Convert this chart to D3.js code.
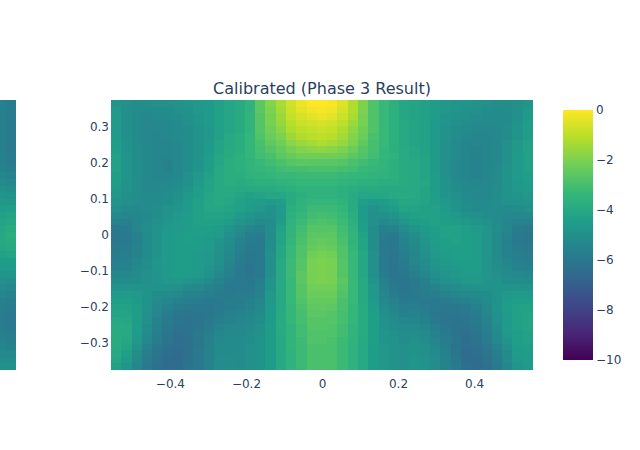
<!DOCTYPE html>
<html><head><meta charset="utf-8">
<script src="https://cdn.jsdelivr.net/npm/d3@7"></script>
<style>html,body{margin:0;padding:0;background:#fff}svg{display:block}text{font-family:"DejaVu Sans",sans-serif;fill:#2a3f5f}</style>
</head><body><svg id="c" width="640" height="450"></svg>
<script>
const titleText = "Calibrated (Phase 3 Result)";
const xTicks = [-0.4,-0.2,0,0.2,0.4];
const yTicks = [-0.3,-0.2,-0.1,0,0.1,0.2,0.3];
const barTicks = [0,-2,-4,-6,-8,-10];
const viridis = ['#440154','#482878','#3e4989','#31688e','#26828e','#1f9e89','#35b779','#6ece58','#b5de2b','#fde725'];
const stripA = [-5.6,-5.6,-5.7,-5.7,-5.7,-5.7,-5.7,-5.7,-5.6,-5.6,-5.5,-5.4,-5.2,-5.0,-4.8,-4.7,-4.5,-4.3,-4.2,-4.1,-4.0,-4.0,-4.1,-4.3,-4.5,-4.6,-4.8,-5.0,-5.2,-5.4,-5.6,-5.7,-5.8,-5.8,-5.8,-5.7,-5.5,-5.4,-5.3,-5.1,-5.0];
const stripB = [-5.8,-5.8,-5.8,-5.9,-5.9,-5.9,-5.9,-5.9,-5.8,-5.8,-5.7,-5.5,-5.3,-5.1,-4.9,-4.7,-4.4,-4.2,-4.1,-3.9,-3.8,-3.9,-4.0,-4.2,-4.5,-4.6,-4.8,-5.1,-5.3,-5.5,-5.7,-5.8,-5.9,-5.9,-5.9,-5.8,-5.7,-5.5,-5.3,-5.1,-5.0];
const z = [
[-4.8,-5.0,-5.1,-5.1,-5.0,-5.0,-4.9,-4.8,-4.7,-4.6,-4.3,-4.1,-3.9,-3.6,-2.6,-1.9,-1.3,-0.7,-0.3,-0.05,0,-0.1,-0.5,-1.2,-2.0,-2.8,-3.3,-3.7,-4.1,-4.2,-4.3,-4.5,-4.7,-4.8,-4.8,-4.9,-5.0,-5.1,-5.1,-5.0,-4.8],
[-4.7,-5.0,-5.1,-5.2,-5.1,-5.1,-5.0,-4.9,-4.7,-4.6,-4.3,-4.1,-3.9,-3.6,-2.6,-2.0,-1.4,-0.8,-0.4,-0.2,-0.1,-0.2,-0.6,-1.2,-2.0,-2.8,-3.3,-3.7,-4.1,-4.2,-4.3,-4.5,-4.7,-4.8,-4.9,-5.0,-5.1,-5.2,-5.1,-5.0,-4.7],
[-4.6,-5.0,-5.2,-5.3,-5.2,-5.2,-5.1,-5.0,-4.8,-4.6,-4.3,-4.1,-3.9,-3.5,-2.7,-2.1,-1.5,-0.9,-0.6,-0.4,-0.3,-0.4,-0.8,-1.3,-2.1,-2.8,-3.3,-3.7,-4.1,-4.2,-4.3,-4.5,-4.8,-4.9,-5.0,-5.1,-5.2,-5.2,-5.2,-5.0,-4.6],
[-4.6,-5.0,-5.2,-5.3,-5.3,-5.3,-5.2,-5.0,-4.8,-4.6,-4.3,-4.1,-3.9,-3.5,-2.7,-2.1,-1.6,-1.1,-0.8,-0.7,-0.6,-0.7,-1.0,-1.5,-2.1,-2.8,-3.3,-3.7,-4.0,-4.2,-4.3,-4.6,-4.8,-5.0,-5.1,-5.2,-5.2,-5.2,-5.2,-4.9,-4.5],
[-4.6,-5.0,-5.2,-5.3,-5.3,-5.3,-5.2,-5.1,-4.9,-4.7,-4.3,-4.1,-3.9,-3.5,-2.7,-2.2,-1.8,-1.2,-1.0,-0.9,-0.8,-0.9,-1.2,-1.7,-2.2,-2.8,-3.3,-3.7,-4.0,-4.2,-4.3,-4.6,-4.9,-5.1,-5.2,-5.3,-5.3,-5.3,-5.1,-4.8,-4.4],
[-4.6,-5.0,-5.2,-5.3,-5.4,-5.3,-5.2,-5.1,-4.9,-4.7,-4.3,-4.0,-3.8,-3.4,-2.8,-2.3,-2.0,-1.5,-1.2,-1.1,-1.0,-1.1,-1.4,-1.9,-2.3,-2.9,-3.3,-3.7,-4.0,-4.2,-4.3,-4.6,-4.9,-5.1,-5.3,-5.4,-5.4,-5.3,-5.1,-4.8,-4.4],
[-4.5,-4.9,-5.2,-5.3,-5.4,-5.4,-5.3,-5.1,-4.9,-4.6,-4.2,-4.0,-3.8,-3.4,-2.9,-2.5,-2.2,-1.8,-1.5,-1.4,-1.2,-1.4,-1.6,-2.0,-2.5,-3.0,-3.3,-3.7,-4.0,-4.2,-4.3,-4.6,-5.0,-5.2,-5.4,-5.4,-5.4,-5.3,-5.0,-4.7,-4.3],
[-4.4,-4.9,-5.1,-5.3,-5.4,-5.4,-5.3,-5.1,-4.9,-4.6,-4.2,-3.9,-3.8,-3.4,-3.0,-2.7,-2.4,-2.1,-1.9,-1.8,-1.7,-1.8,-2.0,-2.3,-2.7,-3.0,-3.4,-3.7,-3.9,-4.1,-4.3,-4.6,-5.0,-5.2,-5.4,-5.5,-5.4,-5.3,-5.0,-4.7,-4.3],
[-4.3,-4.8,-5.1,-5.3,-5.4,-5.4,-5.3,-5.1,-4.9,-4.5,-4.1,-3.9,-3.7,-3.4,-3.1,-2.9,-2.6,-2.4,-2.2,-2.2,-2.2,-2.2,-2.3,-2.6,-2.8,-3.1,-3.4,-3.6,-3.9,-4.1,-4.2,-4.6,-5.0,-5.2,-5.4,-5.5,-5.4,-5.3,-5.0,-4.6,-4.3],
[-4.3,-4.8,-5.1,-5.3,-5.4,-5.5,-5.3,-5.1,-4.8,-4.4,-4.1,-3.8,-3.7,-3.5,-3.3,-3.1,-2.9,-2.7,-2.6,-2.6,-2.6,-2.6,-2.7,-2.9,-3.1,-3.3,-3.5,-3.7,-3.9,-4.0,-4.2,-4.6,-5.0,-5.3,-5.4,-5.5,-5.4,-5.3,-5.0,-4.6,-4.3],
[-4.3,-4.8,-5.1,-5.3,-5.4,-5.5,-5.3,-5.1,-4.8,-4.4,-4.0,-3.8,-3.7,-3.5,-3.4,-3.3,-3.1,-3.0,-3.0,-2.9,-2.9,-2.9,-3.0,-3.1,-3.3,-3.4,-3.5,-3.7,-3.9,-4.0,-4.2,-4.6,-5.0,-5.3,-5.4,-5.5,-5.4,-5.2,-4.9,-4.6,-4.3],
[-4.4,-4.8,-5.1,-5.3,-5.4,-5.4,-5.3,-5.0,-4.7,-4.3,-4.0,-3.8,-3.8,-3.6,-3.5,-3.4,-3.3,-3.3,-3.2,-3.2,-3.2,-3.2,-3.3,-3.4,-3.4,-3.5,-3.6,-3.7,-3.9,-4.0,-4.2,-4.5,-5.0,-5.3,-5.4,-5.5,-5.4,-5.2,-4.9,-4.6,-4.4],
[-4.5,-4.9,-5.1,-5.3,-5.3,-5.3,-5.2,-5.0,-4.6,-4.2,-4.0,-3.8,-3.9,-3.8,-3.7,-3.7,-3.6,-3.5,-3.4,-3.4,-3.4,-3.4,-3.5,-3.6,-3.7,-3.7,-3.8,-3.8,-3.9,-4.0,-4.1,-4.5,-4.9,-5.2,-5.3,-5.4,-5.3,-5.2,-4.9,-4.7,-4.5],
[-4.6,-4.9,-5.1,-5.3,-5.3,-5.2,-5.1,-4.8,-4.4,-4.2,-4.0,-3.9,-4.0,-4.0,-3.9,-3.9,-3.8,-3.7,-3.6,-3.6,-3.6,-3.6,-3.7,-3.8,-3.9,-3.9,-4.0,-4.0,-4.0,-4.0,-4.2,-4.5,-4.9,-5.1,-5.3,-5.3,-5.3,-5.1,-4.9,-4.7,-4.6],
[-4.7,-5.0,-5.1,-5.2,-5.2,-5.1,-5.0,-4.7,-4.4,-4.1,-4.0,-4.0,-4.2,-4.3,-4.2,-4.1,-4.1,-3.9,-3.7,-3.6,-3.6,-3.6,-3.7,-3.9,-4.1,-4.1,-4.1,-4.0,-3.9,-4.0,-4.2,-4.4,-4.8,-5.0,-5.2,-5.3,-5.3,-5.1,-4.9,-4.8,-4.7],
[-4.8,-5.0,-5.1,-5.2,-5.2,-5.1,-4.9,-4.6,-4.3,-4.1,-4.0,-4.1,-4.3,-4.4,-4.5,-4.6,-4.4,-3.9,-3.6,-3.4,-3.4,-3.4,-3.6,-3.9,-4.4,-4.6,-4.5,-4.3,-4.1,-4.1,-4.2,-4.4,-4.7,-4.9,-5.2,-5.2,-5.2,-5.1,-5.0,-4.9,-4.8],
[-5.0,-5.2,-5.3,-5.2,-5.1,-4.9,-4.8,-4.6,-4.3,-4.1,-4.1,-4.2,-4.3,-4.5,-4.7,-4.9,-4.6,-3.8,-3.5,-3.2,-3.2,-3.2,-3.4,-3.9,-4.6,-4.9,-4.7,-4.5,-4.2,-4.2,-4.3,-4.3,-4.6,-4.9,-5.1,-5.2,-5.2,-5.2,-5.2,-5.1,-5.0],
[-5.3,-5.4,-5.4,-5.3,-5.1,-4.9,-4.7,-4.5,-4.3,-4.2,-4.2,-4.3,-4.6,-4.8,-5.0,-5.0,-4.6,-3.7,-3.4,-3.1,-3.0,-3.1,-3.3,-3.8,-4.6,-5.0,-5.0,-4.8,-4.5,-4.3,-4.3,-4.3,-4.5,-4.7,-4.9,-5.0,-5.1,-5.2,-5.3,-5.3,-5.3],
[-5.6,-5.6,-5.4,-5.2,-5.0,-4.8,-4.6,-4.5,-4.3,-4.3,-4.3,-4.5,-4.8,-5.0,-5.2,-5.1,-4.5,-3.6,-3.2,-2.9,-2.8,-2.9,-3.2,-3.7,-4.5,-5.0,-5.3,-5.1,-4.8,-4.5,-4.4,-4.3,-4.4,-4.5,-4.7,-4.8,-5.0,-5.2,-5.4,-5.6,-5.6],
[-5.9,-5.8,-5.4,-5.1,-4.9,-4.7,-4.6,-4.5,-4.4,-4.4,-4.5,-4.8,-5.1,-5.4,-5.5,-5.1,-4.3,-3.5,-3.1,-2.7,-2.7,-2.7,-3.1,-3.6,-4.4,-5.1,-5.6,-5.5,-5.1,-4.8,-4.6,-4.4,-4.3,-4.3,-4.4,-4.6,-4.8,-5.1,-5.4,-5.8,-5.9],
[-6.0,-5.9,-5.5,-5.2,-4.9,-4.6,-4.5,-4.4,-4.4,-4.5,-4.6,-5.0,-5.3,-5.7,-5.8,-5.1,-4.2,-3.5,-3.0,-2.6,-2.6,-2.6,-3.0,-3.5,-4.3,-5.1,-5.8,-5.9,-5.4,-5.1,-4.7,-4.5,-4.3,-4.3,-4.4,-4.5,-4.8,-5.2,-5.5,-5.9,-6.0],
[-6.0,-5.9,-5.6,-5.2,-4.9,-4.6,-4.5,-4.4,-4.5,-4.6,-4.8,-5.1,-5.5,-5.8,-5.9,-5.1,-4.2,-3.4,-2.9,-2.5,-2.4,-2.5,-2.9,-3.5,-4.2,-5.1,-5.9,-6.0,-5.5,-5.2,-4.8,-4.5,-4.4,-4.3,-4.4,-4.5,-4.8,-5.2,-5.6,-5.9,-6.0],
[-5.9,-5.8,-5.5,-5.2,-4.9,-4.6,-4.5,-4.5,-4.5,-4.6,-4.9,-5.2,-5.6,-5.9,-5.9,-5.1,-4.1,-3.3,-2.8,-2.4,-2.3,-2.4,-2.8,-3.4,-4.2,-5.1,-5.9,-6.0,-5.6,-5.3,-4.9,-4.6,-4.4,-4.4,-4.4,-4.5,-4.8,-5.2,-5.5,-5.8,-5.9],
[-5.8,-5.7,-5.5,-5.2,-4.9,-4.6,-4.5,-4.5,-4.6,-4.7,-5.0,-5.3,-5.7,-6.0,-5.9,-5.0,-4.1,-3.3,-2.8,-2.2,-2.1,-2.2,-2.8,-3.3,-4.1,-5.0,-5.9,-6.1,-5.7,-5.4,-5.0,-4.7,-4.5,-4.4,-4.4,-4.5,-4.8,-5.2,-5.5,-5.7,-5.8],
[-5.7,-5.6,-5.4,-5.1,-4.8,-4.6,-4.5,-4.5,-4.6,-4.7,-5.0,-5.4,-5.8,-6.0,-5.9,-5.0,-4.0,-3.2,-2.7,-2.1,-2.0,-2.1,-2.7,-3.3,-4.1,-5.0,-5.9,-6.1,-5.8,-5.4,-5.1,-4.8,-4.6,-4.5,-4.5,-4.5,-4.8,-5.1,-5.4,-5.6,-5.7],
[-5.6,-5.5,-5.3,-5.1,-4.8,-4.6,-4.5,-4.5,-4.6,-4.8,-5.1,-5.5,-5.9,-6.1,-5.9,-5.0,-4.0,-3.2,-2.7,-2.1,-2.0,-2.1,-2.7,-3.3,-4.1,-5.0,-5.9,-6.1,-5.9,-5.5,-5.2,-4.9,-4.7,-4.6,-4.5,-4.5,-4.8,-5.1,-5.3,-5.5,-5.6],
[-5.4,-5.3,-5.2,-5.0,-4.8,-4.6,-4.5,-4.6,-4.7,-4.9,-5.3,-5.6,-5.9,-6.1,-5.9,-5.0,-4.0,-3.2,-2.6,-2.1,-2.0,-2.1,-2.7,-3.3,-4.1,-5.0,-5.8,-6.1,-6.0,-5.7,-5.4,-5.0,-4.8,-4.7,-4.6,-4.6,-4.8,-5.0,-5.2,-5.3,-5.4],
[-5.2,-5.1,-5.1,-5.0,-4.8,-4.7,-4.7,-4.8,-4.9,-5.2,-5.5,-5.8,-5.9,-6.0,-5.7,-4.8,-4.0,-3.3,-2.6,-2.1,-2.0,-2.1,-2.6,-3.3,-4.0,-4.8,-5.6,-6.0,-6.1,-5.9,-5.6,-5.2,-4.9,-4.8,-4.7,-4.7,-4.8,-4.9,-5.1,-5.1,-5.2],
[-4.9,-4.9,-4.9,-4.9,-4.9,-4.9,-5.0,-5.2,-5.3,-5.5,-5.7,-5.9,-5.9,-5.9,-5.6,-4.8,-4.0,-3.3,-2.7,-2.2,-2.2,-2.2,-2.7,-3.3,-4.0,-4.7,-5.5,-5.9,-6.1,-5.9,-5.7,-5.5,-5.2,-5.1,-5.0,-4.9,-4.9,-4.9,-4.9,-4.9,-4.9],
[-4.6,-4.6,-4.7,-4.9,-5.1,-5.2,-5.3,-5.5,-5.6,-5.7,-5.8,-5.9,-5.8,-5.8,-5.5,-4.7,-4.0,-3.3,-2.7,-2.3,-2.3,-2.3,-2.8,-3.3,-4.0,-4.7,-5.4,-5.8,-6.0,-5.9,-5.8,-5.7,-5.5,-5.4,-5.3,-5.2,-5.1,-4.9,-4.7,-4.6,-4.6],
[-4.4,-4.4,-4.6,-4.9,-5.2,-5.4,-5.6,-5.7,-5.8,-5.9,-5.9,-5.8,-5.8,-5.6,-5.4,-4.7,-4.0,-3.3,-2.8,-2.4,-2.4,-2.4,-2.9,-3.3,-4.0,-4.6,-5.3,-5.6,-5.9,-5.8,-5.9,-5.9,-5.8,-5.7,-5.6,-5.4,-5.2,-4.9,-4.6,-4.4,-4.4],
[-4.3,-4.3,-4.5,-4.9,-5.3,-5.6,-5.8,-5.9,-6.0,-6.0,-5.9,-5.8,-5.7,-5.5,-5.3,-4.6,-4.0,-3.4,-2.9,-2.5,-2.5,-2.6,-2.9,-3.4,-3.9,-4.5,-5.1,-5.4,-5.7,-5.7,-5.8,-5.9,-6.0,-6.0,-5.9,-5.6,-5.3,-4.9,-4.5,-4.3,-4.3],
[-4.2,-4.2,-4.5,-5.0,-5.4,-5.8,-6.0,-6.1,-6.1,-6.0,-5.8,-5.6,-5.5,-5.4,-5.2,-4.6,-3.9,-3.4,-3.0,-2.6,-2.6,-2.7,-3.0,-3.4,-3.9,-4.4,-5.0,-5.3,-5.6,-5.5,-5.7,-6.0,-6.1,-6.1,-6.0,-5.8,-5.4,-5.0,-4.6,-4.3,-4.2],
[-4.0,-4.1,-4.5,-5.0,-5.5,-5.9,-6.1,-6.2,-6.1,-5.9,-5.7,-5.5,-5.4,-5.3,-5.1,-4.6,-3.9,-3.4,-3.0,-2.7,-2.7,-2.7,-3.0,-3.4,-3.9,-4.4,-4.9,-5.2,-5.4,-5.4,-5.6,-5.9,-6.1,-6.2,-6.1,-5.9,-5.5,-5.0,-4.6,-4.3,-4.2],
[-3.9,-4.0,-4.5,-5.1,-5.6,-6.0,-6.2,-6.2,-6.1,-5.8,-5.5,-5.3,-5.3,-5.2,-5.0,-4.5,-3.9,-3.5,-3.1,-2.7,-2.7,-2.8,-3.1,-3.5,-3.9,-4.4,-4.9,-5.1,-5.2,-5.2,-5.4,-5.7,-6.0,-6.2,-6.2,-6.0,-5.6,-5.1,-4.6,-4.3,-4.2],
[-3.9,-4.0,-4.6,-5.2,-5.7,-6.1,-6.3,-6.2,-6.0,-5.7,-5.4,-5.3,-5.3,-5.1,-5.0,-4.5,-3.9,-3.5,-3.1,-2.8,-2.8,-2.8,-3.1,-3.5,-3.9,-4.4,-4.8,-5.0,-5.1,-5.1,-5.2,-5.5,-5.9,-6.2,-6.3,-6.1,-5.7,-5.2,-4.7,-4.4,-4.3],
[-3.9,-4.1,-4.7,-5.3,-5.8,-6.2,-6.4,-6.3,-6.0,-5.6,-5.3,-5.2,-5.2,-5.1,-4.9,-4.5,-4.0,-3.5,-3.2,-2.8,-2.8,-2.9,-3.2,-3.5,-4.0,-4.4,-4.8,-4.9,-5.1,-5.0,-5.1,-5.4,-5.8,-6.2,-6.4,-6.2,-5.8,-5.3,-4.8,-4.4,-4.3],
[-3.9,-4.2,-4.9,-5.5,-6.0,-6.3,-6.4,-6.3,-6.0,-5.6,-5.2,-5.2,-5.2,-5.0,-4.9,-4.5,-4.0,-3.5,-3.2,-2.9,-2.9,-2.9,-3.2,-3.6,-4.0,-4.5,-4.7,-4.9,-5.0,-4.9,-5.0,-5.3,-5.7,-6.2,-6.4,-6.3,-6.0,-5.5,-5.0,-4.5,-4.4],
[-4.0,-4.4,-5.1,-5.7,-6.1,-6.4,-6.5,-6.3,-5.9,-5.5,-5.2,-5.2,-5.2,-5.0,-4.9,-4.5,-4.0,-3.6,-3.2,-2.9,-2.9,-2.9,-3.2,-3.6,-4.0,-4.5,-4.7,-4.9,-5.0,-4.9,-5.0,-5.2,-5.6,-6.1,-6.5,-6.4,-6.1,-5.7,-5.2,-4.6,-4.5],
[-4.1,-4.6,-5.2,-5.8,-6.2,-6.5,-6.5,-6.3,-5.9,-5.5,-5.1,-5.1,-5.2,-5.0,-4.9,-4.5,-4.0,-3.6,-3.2,-2.9,-2.9,-2.9,-3.2,-3.6,-4.0,-4.5,-4.7,-4.9,-5.0,-4.8,-4.9,-5.1,-5.5,-6.0,-6.5,-6.5,-6.2,-5.8,-5.2,-4.7,-4.5],
[-4.3,-4.8,-5.4,-5.9,-6.3,-6.5,-6.5,-6.2,-5.9,-5.5,-5.1,-5.1,-5.2,-5.0,-4.9,-4.5,-4.0,-3.6,-3.2,-2.9,-2.9,-2.9,-3.2,-3.6,-4.0,-4.5,-4.7,-4.9,-5.0,-4.8,-4.9,-5.1,-5.5,-5.9,-6.4,-6.5,-6.3,-5.9,-5.4,-4.8,-4.6]
];

const svg = d3.select("#c");
const nCols = z[0].length, nRows = z.length;
const x = d3.scaleLinear().domain([-0.555,0.555]).range([111,533]);
const y = d3.scaleLinear().domain([-0.375,0.375]).range([370,100]);
const color = d3.scaleLinear().domain(viridis.map((_,i)=>-10+i*10/9)).range(viridis).clamp(true);
const dx = (x.domain()[1]-x.domain()[0])/nCols, dy=(y.domain()[1]-y.domain()[0])/nRows;
const cellY = j => Math.round(y(y.domain()[1]-j*dy));
const cellX = i => Math.round(x(x.domain()[0]+i*dx));

// partially visible left panel
const stripScale = d3.scaleLinear().domain([0,1,2]).range([-4,6,16]);
[stripA,stripB].forEach((s,k)=>{
  svg.append("g").attr("shape-rendering","crispEdges").selectAll("rect").data(s).join("rect")
    .attr("x",stripScale(k)).attr("width",stripScale(k+1)-stripScale(k))
    .attr("y",(d,j)=>cellY(j)).attr("height",(d,j)=>cellY(j+1)-cellY(j))
    .attr("fill",d=>color(d));
});
// main heatmap
svg.append("g").attr("shape-rendering","crispEdges").selectAll("g").data(z).join("g").each(function(row,j){
  d3.select(this).selectAll("rect").data(row).join("rect")
    .attr("x",(d,i)=>cellX(i))
    .attr("y",cellY(j))
    .attr("width",(d,i)=>cellX(i+1)-cellX(i))
    .attr("height",cellY(j+1)-cellY(j))
    .attr("fill",d=>color(d));
});
const fmt = v=>{const s=Math.abs(v)<1e-9?"0":String(Math.abs(v));return (v<-1e-9?"\u2212":"")+s;};
const ax = svg.append("g").attr("transform","translate(0,370)").call(d3.axisBottom(x).tickValues(xTicks).tickFormat(fmt).tickSize(0).tickPadding(9));
const ay = svg.append("g").attr("transform","translate(111,0)").call(d3.axisLeft(y).tickValues(yTicks).tickFormat(fmt).tickSize(0).tickPadding(2));
[ax,ay].forEach(a=>{a.select(".domain").remove();a.selectAll("text").attr("font-size",12).style("font-family",'"DejaVu Sans",sans-serif').style("fill","#2a3f5f");});

// colour bar
const cb = d3.scaleLinear().domain([-10,0]).range([360,110]);
const defs = svg.append("defs").append("linearGradient").attr("id","cbg").attr("x1",0).attr("x2",0).attr("y1",1).attr("y2",0);
viridis.forEach((c,i)=>defs.append("stop").attr("offset",i/9).attr("stop-color",c));
svg.append("rect").attr("x",563).attr("width",30).attr("y",cb(0)).attr("height",cb(-10)-cb(0)).attr("fill","url(#cbg)");
const ac = svg.append("g").attr("transform","translate(593,0)").call(d3.axisRight(cb).tickValues(barTicks).tickFormat(fmt).tickSize(0).tickPadding(3));
ac.select(".domain").remove();
ac.selectAll("text").attr("font-size",12).style("font-family",'"DejaVu Sans",sans-serif').style("fill","#2a3f5f");

svg.append("text").attr("x",322).attr("y",94).attr("text-anchor","middle").attr("font-size",16).text(titleText);
</script></body></html>
